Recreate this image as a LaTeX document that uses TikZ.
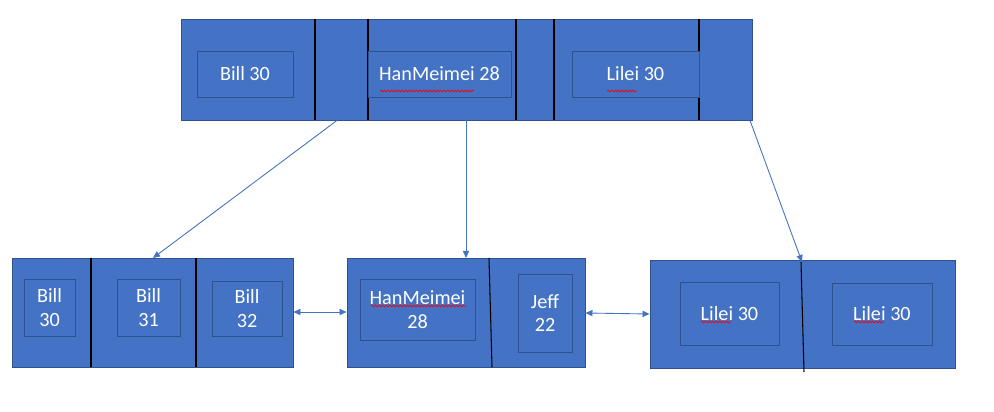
\documentclass[tikz,border=0pt]{standalone}
\usepackage{fontspec}
\setmainfont{Carlito}
\usetikzlibrary{arrows.meta,fit,decorations.pathmorphing}
\definecolor{boxblue}{HTML}{4472C4}
\definecolor{boxedge}{HTML}{2F528F}

\begin{document}
\begin{tikzpicture}[
    x = 0.2mm, y = -0.2mm,
    pagebox/.style = {
        draw = boxedge,
        fill = boxblue,
        line width = 0.5pt,
        inner sep = 0pt
    },
    keytext/.style = {
        text = white,
        align = center,
        inner sep = 0pt,
        font = \fontsize{11.5}{13.5}\selectfont
    },
    divider/.style = {black, line width = 0.6pt},
    pointer/.style = {boxblue, line width = 0.5pt, -{Triangle[length=4pt, width=3.5pt]}},
    link/.style = {boxblue, line width = 0.5pt, {Triangle[length=4pt, width=3.5pt]}-{Triangle[length=4pt, width=3.5pt]}},
    typo/.style = {red, line width = 0.4pt, decorate,
        decoration = {snake, amplitude = 0.5pt, segment length = 2pt}}
]
\useasboundingbox (0,0) rectangle (994,412);

% Root page
\node[pagebox, fit = {(181,19) (752,120)}] (root) {};
\foreach \x in {315, 368, 516, 554, 699} {
    \draw[divider] (\x,19) -- (\x,120);
}
\node[pagebox, fit = {(197,51) (293,97)}] (rbill) {};
\node[pagebox, fit = {(368,51) (511,97)}] (rhan) {};
\node[pagebox, fit = {(572,51) (699,97)}] (rlilei) {};
\node[keytext] at (rbill.center) {Bill 30};
\node[keytext] at (rhan.center) {HanMeimei 28};
\node[keytext] at (rlilei.center) {Lilei 30};

% Leaf pages
\node[pagebox, fit = {(12,258) (293,367)}] (leafa) {};
\node[pagebox, fit = {(347,258) (585,367)}] (leafb) {};
\node[pagebox, fit = {(650,260) (955,368)}] (leafc) {};
\draw[divider] (91,258) -- (91,367);
\draw[divider] (196,258) -- (196,367);
\draw[divider] (489,258) -- (492,367);
\draw[divider] (801,262) -- (804,372);

% Leaf entries
\node[pagebox, fit = {(24,279) (75,336)}] (bill30) {};
\node[pagebox, fit = {(117,279) (180,336)}] (bill31) {};
\node[pagebox, fit = {(212,281) (282,336)}] (bill32) {};
\node[pagebox, fit = {(360,279) (475,340)}] (han28) {};
\node[pagebox, fit = {(518,274) (572,352)}] (jeff22) {};
\node[pagebox, fit = {(680,282) (779,345)}] (lilei1) {};
\node[pagebox, fit = {(832,283) (932,345)}] (lilei2) {};
\foreach \n / \t in {bill30/Bill\\30, bill31/Bill\\31, bill32/Bill\\32,
                    han28/HanMeimei\\28, jeff22/Jeff\\22,
                    lilei1/Lilei 30, lilei2/Lilei 30} {
    \node[keytext] at (\n.center) {\t};
}

% Spell check marks
\draw[typo] (380,91) -- (474,91);
\draw[typo] (607,91) -- (637,91);
\draw[typo] (371,306) -- (466,306);
\draw[typo] (701,322) -- (731,322);
\draw[typo] (854,322) -- (884,322);

% Child pointers
\coordinate (ca) at (153,258);
\coordinate (cb) at (466,258);
\coordinate (cc) at (802,262);
\draw[pointer] (root.south -| 337,0) -- (ca);
\draw[pointer] (root.south -| 466,0) -- (cb);
\draw[pointer] (root.south -| 750,0) -- (cc);

% Sibling links
\draw[link] (leafa.east |- 0,312) -- (leafb.west |- 0,312);
\draw[link] (leafb.east |- 0,313) -- (leafc.west |- 0,314);

\end{tikzpicture}
\end{document}
